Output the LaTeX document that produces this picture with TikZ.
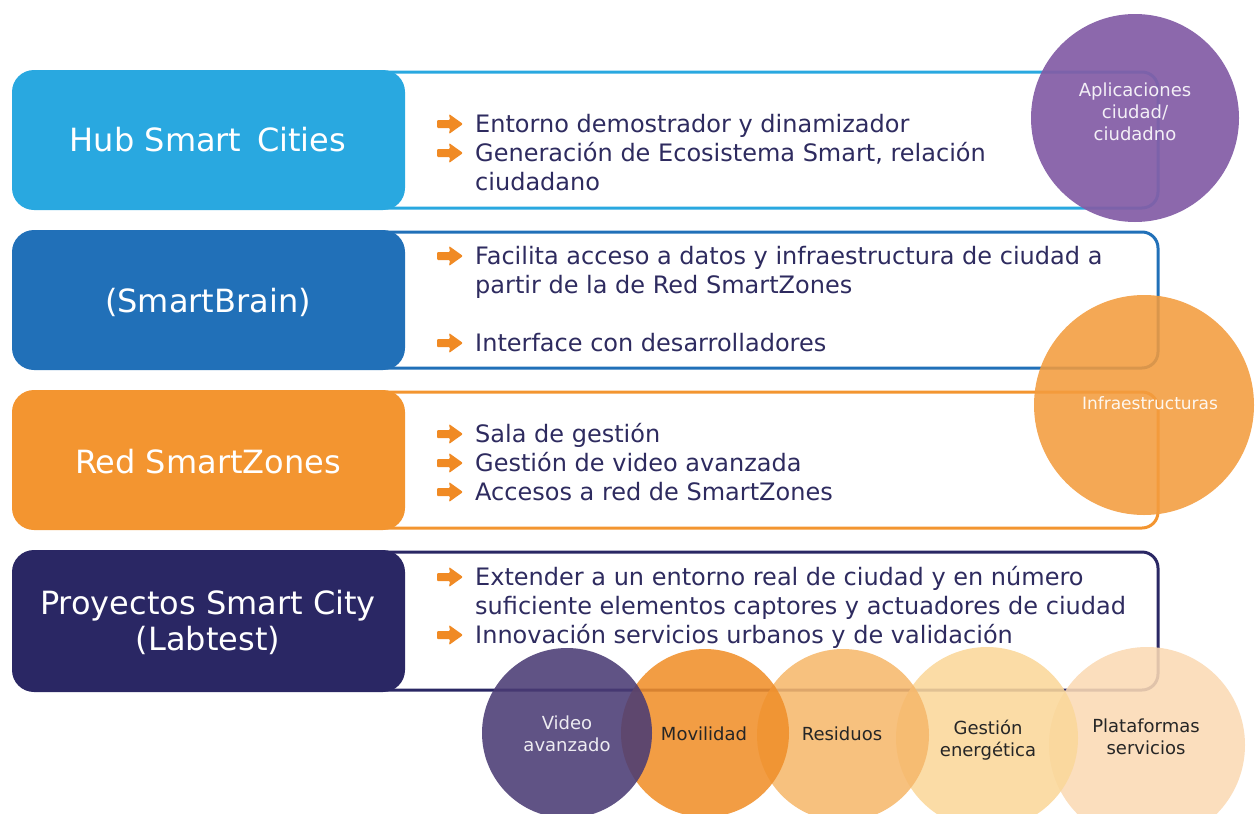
\documentclass[tikz,border=0pt]{standalone}
\usepackage{fontspec}
\setmainfont{DejaVu Sans}
\definecolor{hubblue}{HTML}{29A8E0}
\definecolor{brainblue}{HTML}{2170B8}
\definecolor{zoneor}{HTML}{F39530}
\definecolor{labnavy}{HTML}{2A2764}
\definecolor{txtnavy}{HTML}{2E2B5F}
\definecolor{arrowor}{HTML}{F08A24}
\definecolor{aplpurple}{HTML}{835DA6}
\definecolor{infraor}{HTML}{F39C3E}
\definecolor{vidpurple}{HTML}{4A3B74}
\definecolor{movor}{HTML}{F08F2A}
\definecolor{resor}{HTML}{F6B86C}
\definecolor{gesor}{HTML}{FAD79A}
\definecolor{plator}{HTML}{FAD9B4}
% one bullet line: arrow plus text, y is the baseline
\newcommand{\itm}[3]{\pic at (437,#2-8) {bul}; \node[item] (#1) at (475,#2) {#3};}
\begin{document}
\begin{tikzpicture}[x=1pt,y=-1pt,line cap=round,line join=round]
	\tikzset{tag/.style={text=white,font=\fontsize{32}{36}\selectfont,align=center},
		item/.style={anchor=base west,text=txtnavy,font=\fontsize{24}{28}\selectfont,inner sep=0pt},
		frame/.style={line width=3pt,rounded corners=16pt},
		box/.style={rounded corners=22pt},
		disc/.style={fill opacity=.88},
		small/.style={font=\fontsize{18}{22}\selectfont,align=center},
		bul/.pic={\fill[arrowor,rounded corners=1pt] (0,-4)--(13,-4)--(12,-10)--(26,0)--(12,10)--(13,4)--(0,4)--cycle;}}
	\useasboundingbox (0,0) rectangle (1256,814);
	\clip (0,0) rectangle (1256,814);
	% outlined panels behind the coloured tags
	\draw[frame,hubblue] (370,72) rectangle (1158,208);
	\draw[frame,brainblue] (370,232) rectangle (1158,368);
	\draw[frame,zoneor] (370,392) rectangle (1158,528);
	\draw[frame,labnavy] (370,552) rectangle (1158,690);
	\fill[box,hubblue] (12,70) rectangle (405,210);
	\fill[box,brainblue] (12,230) rectangle (405,370);
	\fill[box,zoneor] (12,390) rectangle (405,530);
	\fill[box,labnavy] (12,550) rectangle (405,692);
	\node[tag] (hub) at (208,140) {Hub Smart\, Cities};
	\node[tag] (brain) at (208,302) {(SmartBrain)};
	\node[tag] (zones) at (208,462) {Red SmartZones};
	\node[tag] (labtest) at (208,622) {Proyectos Smart City\\(Labtest)};
	% bullets
	\itm{h1}{132}{Entorno demostrador y dinamizador}
	\itm{h2}{161}{Generación de Ecosistema Smart, relación}
	\node[item] (h3) at (475,190) {ciudadano};
	\itm{b1}{264}{Facilita acceso a datos y infraestructura de ciudad a}
	\node[item] (b2) at (475,293) {partir de la de Red SmartZones};
	\itm{b3}{351}{Interface con desarrolladores}
	\itm{z1}{442}{Sala de gestión}
	\itm{z2}{471}{Gestión de video avanzada}
	\itm{z3}{500}{Accesos a red de SmartZones}
	\itm{l1}{585}{Extender a un entorno real de ciudad y en número}
	\node[item] (l2) at (475,614) {suficiente elementos captores y actuadores de ciudad};
	\itm{l3}{643}{Innovación servicios urbanos y de validación}
	% side circles
	\fill[disc,aplpurple,fill opacity=.93] (1135,118) circle (104);
	\node[small,text=white!90!aplpurple] (apl) at (1135,112) {Aplicaciones\\ciudad/\\ciudadno};
	\fill[disc,infraor] (1144,405) circle (110);
	\node[small,text=white!92!infraor,font=\fontsize{17}{20}\selectfont] (infra) at (1150,403) {Infraestructuras};
	% bottom row of circles
	\foreach \cx/\cy/\r/\col in {1147/745/98/plator,987/738/91/gesor,843/735/86/resor,705/733/84/movor,567/733/85/vidpurple}
		\fill[disc,\col] (\cx,\cy) circle (\r);
	\node[small,text=white!90!vidpurple] (vid) at (567,734) {Video\\avanzado};
	\node[small,text=black!85] (mov) at (704,734) {Movilidad};
	\node[small,text=black!85] (res) at (842,734) {Residuos};
	\node[small,text=black!85] (ges) at (988,740) {Gestión\\energética};
	\node[small,text=black!85] (plat) at (1146,737) {Plataformas\\servicios};
\end{tikzpicture}
\end{document}
